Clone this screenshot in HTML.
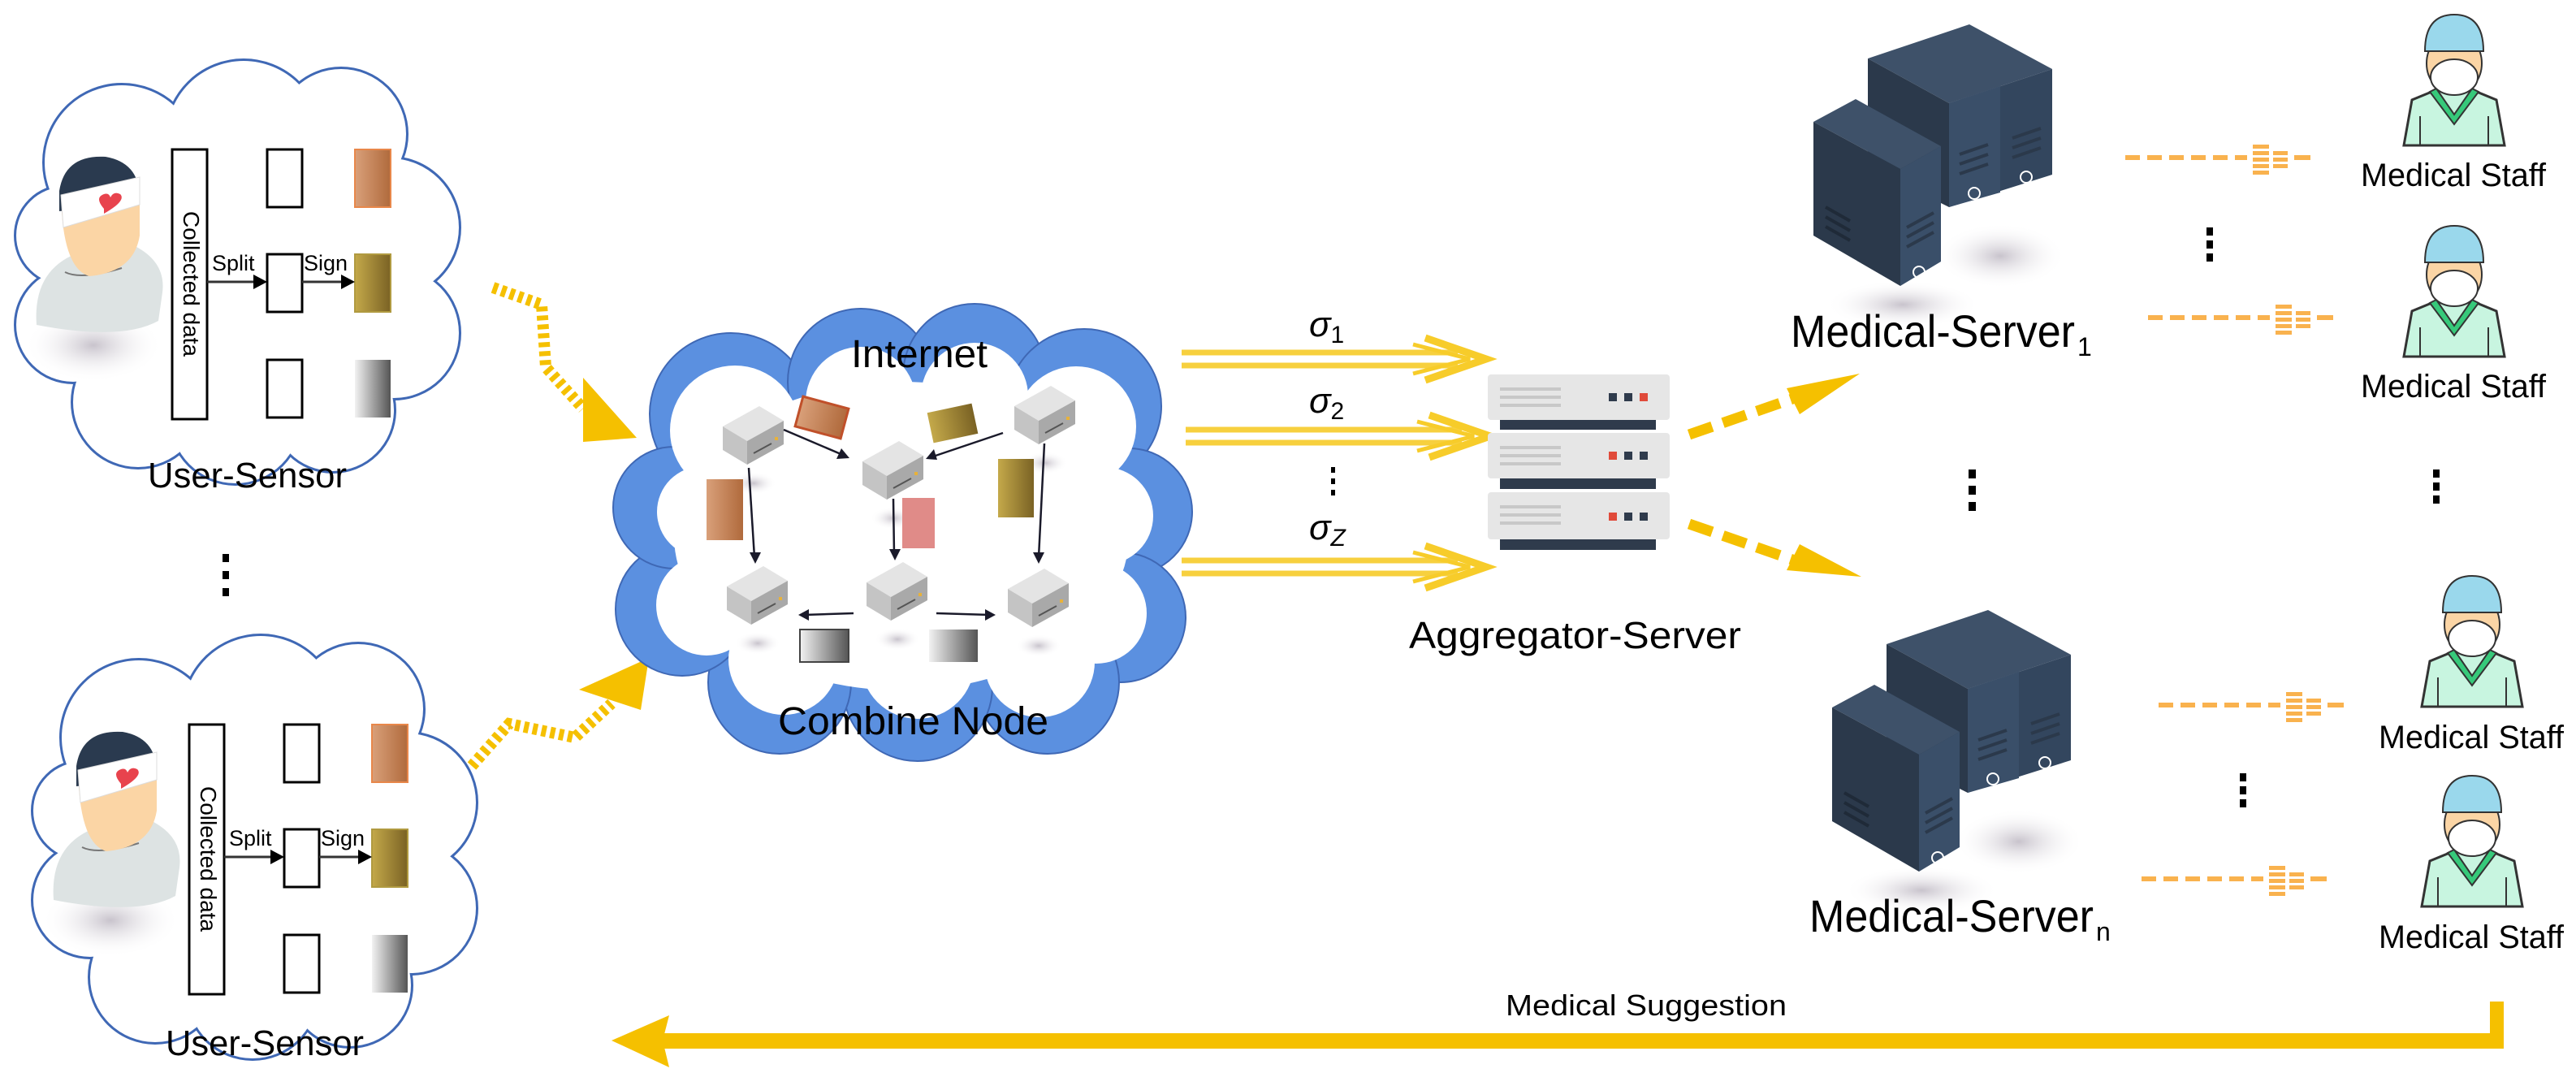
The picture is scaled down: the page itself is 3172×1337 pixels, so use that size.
<!DOCTYPE html>
<html><head><meta charset="utf-8"><style>
html,body{margin:0;padding:0;background:#fff;}
svg{display:block;}
text{font-family:"Liberation Sans",sans-serif;}
</style></head><body>
<svg width="3172" height="1337" viewBox="0 0 3172 1337" xmlns="http://www.w3.org/2000/svg">
<defs>
<linearGradient id="gOr" x1="0" x2="1"><stop offset="0" stop-color="#d9a07a"/><stop offset="1" stop-color="#b06a3c"/></linearGradient>
<linearGradient id="gGo" x1="0" x2="1"><stop offset="0" stop-color="#c4a94a"/><stop offset="1" stop-color="#7a6224"/></linearGradient>
<linearGradient id="gGr" x1="0" x2="1"><stop offset="0" stop-color="#f2f2f2"/><stop offset="1" stop-color="#555"/></linearGradient>
<radialGradient id="shad"><stop offset="0" stop-color="#c8c3cc"/><stop offset="1" stop-color="#fff" stop-opacity="0"/></radialGradient>

<g id="cc">
    <circle cx="150" cy="200" r="95"/><circle cx="300" cy="170" r="95"/><circle cx="420" cy="165" r="80"/>
    <circle cx="480" cy="280" r="85"/><circle cx="485" cy="410" r="80"/><circle cx="410" cy="505" r="75"/>
    <circle cx="290" cy="515" r="80"/><circle cx="170" cy="495" r="80"/><circle cx="90" cy="400" r="70"/><circle cx="80" cy="290" r="60"/>
    <ellipse cx="285" cy="340" rx="200" ry="190"/>
</g>
<g id="ucloud">
  <g fill="none" stroke="#3f68b5" stroke-width="6"><use href="#cc"/></g>
  <g fill="#fff"><use href="#cc"/></g>
</g>
<g id="user">
  <ellipse cx="115" cy="425" rx="85" ry="45" fill="url(#shad)"/>
  <path d="M45 400 Q40 330 100 310 L160 300 Q205 320 200 360 L195 395 Q150 420 45 400Z" fill="#dde3e3"/>
  <path d="M80 335 Q100 345 150 330" stroke="#777" stroke-width="2" fill="none"/>
  <path d="M75 230 Q75 330 110 340 Q165 335 172 290 L172 230Z" fill="#fbd5a5"/>
  <path d="M73 235 Q80 190 130 193 Q170 200 172 240 L172 250 L73 260Z" fill="#2a3a4f"/>
  <path d="M75 240 L172 218 L172 252 L78 280Z" fill="#fff" stroke="#ddd"/>
  <path d="M128 257 q-12 -14 0 -18 q6 -2 8 4 q4 -8 12 -4 q8 8 -20 24z" fill="#e8434d"/>
</g>
<g id="sensor">
  <rect x="212" y="184" width="43" height="332" fill="#fff" stroke="#000" stroke-width="3"/>
  <text transform="translate(226,260) rotate(90)" font-size="28">Collected data</text>
  <rect x="329" y="184" width="43" height="71" fill="#fff" stroke="#000" stroke-width="3"/>
  <rect x="329" y="313" width="43" height="71" fill="#fff" stroke="#000" stroke-width="3"/>
  <rect x="329" y="443" width="43" height="71" fill="#fff" stroke="#000" stroke-width="3"/>
  <rect x="437" y="184" width="44" height="71" fill="url(#gOr)" stroke="#e8874a" stroke-width="2"/>
  <rect x="437" y="313" width="44" height="71" fill="url(#gGo)" stroke="#b09a40" stroke-width="2"/>
  <rect x="437" y="443" width="44" height="71" fill="url(#gGr)"/>
  <line x1="255" y1="347" x2="318" y2="347" stroke="#333" stroke-width="3"/><path d="M312 338 L329 347 L312 356Z"/>
  <line x1="372" y1="347" x2="425" y2="347" stroke="#333" stroke-width="3"/><path d="M420 338 L437 347 L420 356Z"/>
  <text x="261" y="333" font-size="27">Split</text><text x="374" y="333" font-size="27">Sign</text>
</g>
<g id="mini">
  <ellipse cx="38" cy="95" rx="28" ry="14" fill="url(#shad)"/>
  <path d="M0 25 L45 0 L75 18 L30 43Z" fill="#e4e4e4"/>
  <path d="M0 25 L30 43 L30 72 L0 54Z" fill="#c4c4c4"/>
  <path d="M30 43 L75 18 L75 47 L30 72Z" fill="#a9a9a9"/>
  <line x1="38" y1="58" x2="60" y2="46" stroke="#555" stroke-width="2"/><rect x="64" y="38" width="4" height="4" fill="#e8b23a"/>
</g>
<g id="srv">
  <ellipse cx="110" cy="345" rx="95" ry="30" fill="url(#shad)"/>
  <ellipse cx="230" cy="285" rx="80" ry="40" fill="url(#shad)"/>
  <path d="M67 42 L192 0 L294 55 L167 97Z" fill="#3e5169"/>
  <path d="M67 42 L167 97 L167 225 L67 175Z" fill="#2b394b"/>
  <path d="M167 97 L294 55 L294 185 L167 225Z" fill="#33465e"/>
  <path d="M167 97 L230 76 L230 207 L167 225Z" fill="#3a4f69"/>
  <g stroke="#2b394b" stroke-width="4"><line x1="180" y1="160" x2="215" y2="148"/><line x1="180" y1="172" x2="215" y2="160"/><line x1="180" y1="184" x2="215" y2="172"/><line x1="245" y1="140" x2="280" y2="128"/><line x1="245" y1="152" x2="280" y2="140"/><line x1="245" y1="164" x2="280" y2="152"/></g>
  <circle cx="198" cy="208" r="7" fill="none" stroke="#fff" stroke-width="2"/><circle cx="262" cy="188" r="7" fill="none" stroke="#fff" stroke-width="2"/>
  <path d="M0 120 L52 92 L157 150 L107 178Z" fill="#3e5169"/>
  <path d="M0 120 L107 178 L107 322 L0 260Z" fill="#2b394b"/>
  <path d="M107 178 L157 150 L157 292 L107 322Z" fill="#3a4f69"/>
  <g stroke="#1f2a38" stroke-width="4"><line x1="15" y1="225" x2="45" y2="242"/><line x1="15" y1="237" x2="45" y2="254"/><line x1="15" y1="249" x2="45" y2="266"/></g>
  <g stroke="#2b394b" stroke-width="4"><line x1="115" y1="250" x2="148" y2="232"/><line x1="115" y1="262" x2="148" y2="244"/><line x1="115" y1="274" x2="148" y2="256"/></g>
  <circle cx="130" cy="305" r="7" fill="none" stroke="#fff" stroke-width="2"/>
</g>
<g id="staff">
  <path d="M-62 166 L-52 110 L-18 96 L18 96 L52 110 L62 166Z" fill="#c8f5e0" stroke="#333" stroke-width="3"/>
  <path d="M-22 96 L0 128 L22 96 L30 100 L0 140 L-30 100Z" fill="#36c97a" stroke="#333" stroke-width="2"/>
  <line x1="-42" y1="130" x2="-42" y2="166" stroke="#333" stroke-width="2"/><line x1="42" y1="130" x2="42" y2="166" stroke="#333" stroke-width="2"/>
  <ellipse cx="0" cy="65" rx="34" ry="38" fill="#fbd5a5" stroke="#333" stroke-width="2"/>
  <path d="M-36 50 Q-36 5 0 5 Q36 5 36 50Z" fill="#9ad8ec" stroke="#333" stroke-width="2"/>
  <ellipse cx="0" cy="82" rx="29" ry="22" fill="#fff" stroke="#333" stroke-width="2"/>
</g>
<g id="ol">
  <line x1="0" y1="0" x2="150" y2="0" stroke="#f9b24e" stroke-width="6" stroke-dasharray="18 9"/>
  <g fill="#f9b24e"><rect x="157" y="-16" width="20" height="5"/><rect x="157" y="-8" width="20" height="5"/><rect x="157" y="0" width="20" height="5"/><rect x="157" y="8" width="20" height="5"/><rect x="157" y="16" width="20" height="5"/>
  <rect x="182" y="-8" width="18" height="5"/><rect x="182" y="0" width="18" height="5"/><rect x="182" y="8" width="18" height="5"/>
  <rect x="208" y="-3" width="20" height="6"/></g>
</g>
<g id="sig">
  <path d="M0 -8 L340 -8 M0 8 L340 8" stroke="#f7cc2a" stroke-width="7" opacity="0.9"/>
  <path d="M300 -26 L375 0 L300 26" fill="none" stroke="#f7cc2a" stroke-width="9"/>
  <path d="M285 -18 L355 0 L285 18" fill="none" stroke="#f7cc2a" stroke-width="5"/>
</g>
</defs>

<!-- user sensors -->
<use href="#ucloud"/><use href="#user"/><use href="#sensor"/>
<text x="182" y="600" font-size="44" textLength="245" lengthAdjust="spacingAndGlyphs">User-Sensor</text>
<g transform="translate(21,708)"><use href="#ucloud"/><use href="#user"/><use href="#sensor"/></g>
<text x="204" y="1299" font-size="44" textLength="244" lengthAdjust="spacingAndGlyphs">User-Sensor</text>
<g fill="#000"><rect x="274" y="682" width="8" height="10"/><rect x="274" y="703" width="8" height="10"/><rect x="274" y="724" width="8" height="10"/></g>

<!-- dotted arrows -->
<path d="M607 354 L667 375 L672 452 L718 503" fill="none" stroke="#f5c000" stroke-width="14" stroke-dasharray="6 5"/>
<path d="M718 465 L784 539 L718 544Z" fill="#f5c000"/>
<path d="M581 943 L627 891 L708 908 L753 866" fill="none" stroke="#f5c000" stroke-width="14" stroke-dasharray="6 5"/>
<path d="M713 849 L799 810 L789 874Z" fill="#f5c000"/>

<!-- internet cloud -->
<g fill="#5b90e0" stroke="#3f68b5" stroke-width="2">
<circle cx="900" cy="510" r="100"/><circle cx="1060" cy="470" r="90"/><circle cx="1200" cy="462" r="88"/><circle cx="1335" cy="500" r="95"/>
<circle cx="1390" cy="630" r="78"/><circle cx="1380" cy="760" r="80"/><circle cx="1290" cy="840" r="88"/><circle cx="1130" cy="845" r="92"/>
<circle cx="960" cy="840" r="88"/><circle cx="840" cy="750" r="82"/><circle cx="830" cy="625" r="75"/>
</g>
<g fill="#fff">
<circle cx="905" cy="530" r="80"/><circle cx="1060" cy="495" r="68"/><circle cx="1200" cy="488" r="66"/><circle cx="1325" cy="525" r="74"/>
<circle cx="1360" cy="635" r="60"/><circle cx="1350" cy="755" r="62"/><circle cx="1280" cy="815" r="68"/><circle cx="1130" cy="815" r="70"/>
<circle cx="965" cy="812" r="68"/><circle cx="870" cy="745" r="62"/><circle cx="865" cy="630" r="56"/>
<ellipse cx="1110" cy="660" rx="280" ry="190"/>
</g>
<text x="1048" y="452" font-size="48" textLength="168" lengthAdjust="spacingAndGlyphs">Internet</text>
<text x="958" y="904" font-size="48" textLength="333" lengthAdjust="spacingAndGlyphs">Combine Node</text>
<use href="#mini" x="890" y="500"/><use href="#mini" x="1062" y="543"/><use href="#mini" x="1249" y="475"/>
<use href="#mini" x="895" y="697"/><use href="#mini" x="1067" y="692"/><use href="#mini" x="1241" y="700"/>
<rect x="983" y="495" width="58" height="38" transform="rotate(15 1012 514)" fill="url(#gOr)" stroke="#c0502a" stroke-width="3"/>
<rect x="1145" y="502" width="56" height="38" transform="rotate(-12 1173 521)" fill="url(#gGo)"/>
<rect x="870" y="590" width="45" height="75" fill="url(#gOr)"/>
<rect x="1111" y="613" width="40" height="62" fill="#e08b88"/>
<rect x="1229" y="565" width="44" height="72" fill="url(#gGo)"/>
<rect x="985" y="775" width="60" height="40" fill="url(#gGr)" stroke="#444" stroke-width="2"/>
<rect x="1144" y="775" width="60" height="40" fill="url(#gGr)"/>
<g stroke="#1a1a2a" stroke-width="2.5" fill="none">
<line x1="965" y1="529" x2="1040" y2="561"/><line x1="1235" y1="533" x2="1146" y2="563"/>
<line x1="922" y1="576" x2="929" y2="686"/><line x1="1100" y1="614" x2="1101" y2="682"/><line x1="1286" y1="546" x2="1279" y2="686"/>
<line x1="1051" y1="755" x2="990" y2="757"/><line x1="1153" y1="755" x2="1219" y2="757"/>
</g>
<g fill="#1a1a2a">
<path d="M1046 564 L1030 565 L1036 552Z"/><path d="M1140 565 L1150 553 L1154 566Z"/>
<path d="M930 694 L923 680 L937 680Z"/><path d="M1102 690 L1095 676 L1109 676Z"/><path d="M1279 694 L1272 680 L1286 680Z"/>
<path d="M983 757 L996 750 L996 764Z"/><path d="M1226 757 L1213 750 L1213 764Z"/>
</g>

<!-- sigma arrows -->
<use href="#sig" x="1455" y="442"/><use href="#sig" x="1460" y="537"/><use href="#sig" x="1455" y="698"/>
<g font-family="Liberation Serif,serif" font-style="italic" font-size="44">
<text x="1612" y="414">σ<tspan font-style="normal" font-size="30" dy="8">1</tspan></text>
<text x="1612" y="508">σ<tspan font-style="normal" font-size="30" dy="8">2</tspan></text>
<text x="1612" y="664">σ<tspan font-size="30" dy="8">Z</tspan></text>
</g>
<g fill="#000"><rect x="1639" y="575" width="5" height="7"/><rect x="1639" y="589" width="5" height="7"/><rect x="1639" y="603" width="5" height="7"/></g>

<!-- aggregator -->
<g>
<rect x="1847" y="516" width="192" height="13" fill="#2f3b4c"/><rect x="1847" y="589" width="192" height="13" fill="#2f3b4c"/><rect x="1847" y="664" width="192" height="13" fill="#2f3b4c"/>
<rect x="1832" y="461" width="224" height="56" rx="4" fill="#e6e6e6"/><rect x="1832" y="533" width="224" height="56" rx="4" fill="#e6e6e6"/><rect x="1832" y="606" width="224" height="58" rx="4" fill="#e6e6e6"/>
<g fill="#c8c8c8"><rect x="1847" y="477" width="75" height="4"/><rect x="1847" y="487" width="75" height="4"/><rect x="1847" y="497" width="75" height="4"/>
<rect x="1847" y="549" width="75" height="4"/><rect x="1847" y="559" width="75" height="4"/><rect x="1847" y="569" width="75" height="4"/>
<rect x="1847" y="622" width="75" height="4"/><rect x="1847" y="632" width="75" height="4"/><rect x="1847" y="642" width="75" height="4"/></g>
<rect x="1981" y="484" width="10" height="10" fill="#2f3b4c"/><rect x="2000" y="484" width="10" height="10" fill="#2f3b4c"/><rect x="2019" y="484" width="10" height="10" fill="#e04a3a"/>
<rect x="1981" y="556" width="10" height="10" fill="#e04a3a"/><rect x="2000" y="556" width="10" height="10" fill="#2f3b4c"/><rect x="2019" y="556" width="10" height="10" fill="#2f3b4c"/>
<rect x="1981" y="631" width="10" height="10" fill="#e04a3a"/><rect x="2000" y="631" width="10" height="10" fill="#2f3b4c"/><rect x="2019" y="631" width="10" height="10" fill="#2f3b4c"/>
</g>
<text x="1735" y="798" font-size="46" textLength="409" lengthAdjust="spacingAndGlyphs">Aggregator-Server</text>

<!-- dashed yellow arrows -->
<line x1="2080" y1="535" x2="2210" y2="490" stroke="#f5c000" stroke-width="13" stroke-dasharray="30 14"/>
<path d="M2200 478 L2290 460 L2216 510Z" fill="#f5c000"/>
<line x1="2080" y1="645" x2="2210" y2="690" stroke="#f5c000" stroke-width="13" stroke-dasharray="30 14"/>
<path d="M2200 702 L2292 710 L2216 670Z" fill="#f5c000"/>

<!-- medical servers -->
<use href="#srv" x="2233" y="30"/>
<text x="2205" y="427" font-size="56" textLength="350" lengthAdjust="spacingAndGlyphs">Medical-Server</text><text x="2558" y="438" font-family="Liberation Serif,serif" font-size="32">1</text>
<use href="#srv" x="2256" y="751"/>
<text x="2228" y="1147" font-size="56" textLength="350" lengthAdjust="spacingAndGlyphs">Medical-Server</text><text x="2581" y="1158" font-family="Liberation Serif,serif" font-size="32">n</text>
<g fill="#000"><rect x="2424" y="578" width="9" height="11"/><rect x="2424" y="598" width="9" height="11"/><rect x="2424" y="618" width="9" height="11"/></g>

<!-- staff -->
<use href="#ol" x="2617" y="194"/><use href="#ol" x="2645" y="391"/><use href="#ol" x="2658" y="868"/><use href="#ol" x="2637" y="1082"/>
<use href="#staff" x="3022" y="13"/><use href="#staff" x="3022" y="273"/><use href="#staff" x="3044" y="704"/><use href="#staff" x="3044" y="950"/>
<g font-size="40">
<text x="2907" y="229" textLength="228" lengthAdjust="spacingAndGlyphs">Medical Staff</text>
<text x="2907" y="489" textLength="228" lengthAdjust="spacingAndGlyphs">Medical Staff</text>
<text x="2929" y="921" textLength="228" lengthAdjust="spacingAndGlyphs">Medical Staff</text>
<text x="2929" y="1167" textLength="228" lengthAdjust="spacingAndGlyphs">Medical Staff</text>
</g>
<g fill="#000">
<rect x="2717" y="280" width="8" height="10"/><rect x="2717" y="296" width="8" height="10"/><rect x="2717" y="312" width="8" height="10"/>
<rect x="2996" y="578" width="8" height="10"/><rect x="2996" y="594" width="8" height="10"/><rect x="2996" y="610" width="8" height="10"/>
<rect x="2758" y="952" width="8" height="10"/><rect x="2758" y="968" width="8" height="10"/><rect x="2758" y="984" width="8" height="10"/>
</g>

<!-- bottom arrow -->
<rect x="815" y="1272" width="2268" height="19" fill="#f5c000"/>
<rect x="3066" y="1233" width="17" height="58" fill="#f5c000"/>
<path d="M753 1281 L824 1250 L816 1281 L824 1314Z" fill="#f5c000"/>
<text x="1854" y="1250" font-size="36" textLength="346" lengthAdjust="spacingAndGlyphs">Medical Suggestion</text>
</svg>
</body></html>
